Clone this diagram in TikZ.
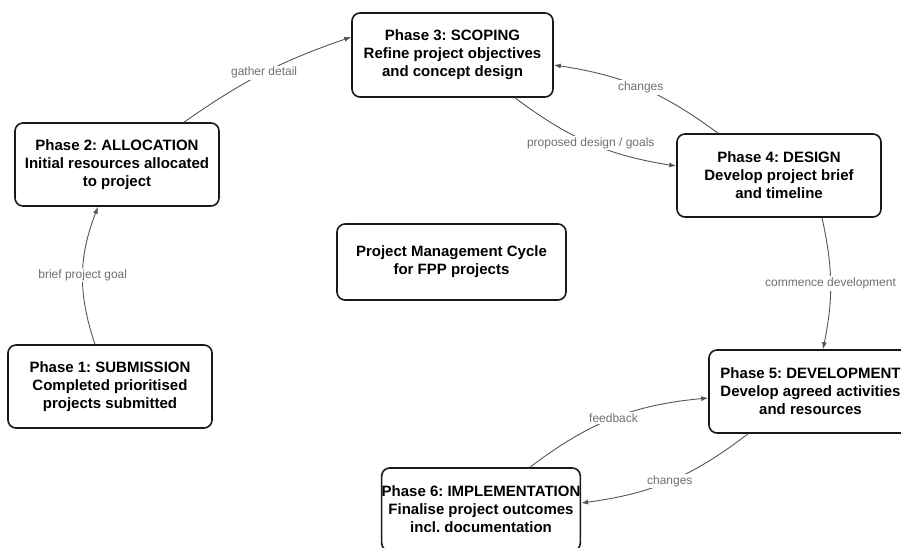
\documentclass[tikz,border=0pt]{standalone}
\usepackage{fontspec}
\setmainfont{Liberation Sans}
\usetikzlibrary{arrows.meta}
\definecolor{edgecol}{HTML}{555555}
\definecolor{labcol}{HTML}{707070}
\frenchspacing
\begin{document}
\begin{tikzpicture}[x=1pt,y=1pt,
  phase/.style={draw=black!90, line width=1.6pt, rounded corners=8pt, fill=white,
    align=center, inner sep=0pt, font=\fontsize{15}{18}\selectfont\bfseries},
  flow/.style={draw=edgecol, line width=0.9pt, -{Latex[length=7pt,width=5pt]}},
  lab/.style={fill=white, text=labcol, inner sep=1.5pt, font=\fontsize{12}{14}\selectfont}
]
\useasboundingbox (0,0) rectangle (901,-547);
\begin{scope}
\clip (0,0) rectangle (901,-547);
\node[phase, minimum width=201pt, minimum height=84pt] (p3) at (452.5,-55) {Phase 3: SCOPING\\Refine project objectives\\and concept design};
\node[phase, minimum width=204pt, minimum height=83pt] (p2) at (117,-164.5) {Phase 2: ALLOCATION\\Initial resources allocated\\to project};
\node[phase, minimum width=204pt, minimum height=83pt] (p1) at (110,-386.5) {Phase 1: SUBMISSION\\Completed prioritised\\projects submitted};
\node[phase, minimum width=204pt, minimum height=83pt] (p4) at (779,-175.5) {Phase 4: DESIGN\\Develop project brief\\and timeline};
\node[phase, minimum width=203pt, minimum height=83pt] (p5) at (810.5,-391.5) {Phase 5: DEVELOPMENT\\Develop agreed activities\\and resources};
\node[phase, minimum width=198pt, minimum height=83pt] (p6) at (481,-509.5) {Phase 6: IMPLEMENTATION\\Finalise project outcomes\\incl. documentation};
\node[phase, minimum width=229pt, minimum height=76pt] (pc) at (451.5,-262) {Project Management Cycle\\for FPP projects};

\draw[flow] ([xshift=-15pt]p1.north) to[bend left=20] node[lab]{brief project goal} ([xshift=-19pt]p2.south);
\draw[flow] ([xshift=67pt]p2.north) to[bend left=8] node[lab]{gather detail} ([yshift=18pt]p3.west);
\draw[flow] ([xshift=62.5pt]p3.south) to[bend right=14] node[lab]{proposed design / goals} ([yshift=9.5pt]p4.west);
\draw[flow] ([xshift=-61pt]p4.north) to[bend right=14] node[lab]{changes} ([yshift=-10pt]p3.east);
\draw[flow] ([xshift=43pt]p4.south) to[bend left=12] node[lab]{commence development} ([xshift=12.5pt]p5.north);
\draw[flow] ([xshift=-62.5pt]p5.south) to[bend left=15] node[lab]{changes} ([yshift=6.5pt]p6.east);
\draw[flow] ([xshift=49pt]p6.north) to[bend left=16] node[lab]{feedback} ([yshift=-6.5pt]p5.west);
\end{scope}
\end{tikzpicture}
\end{document}
